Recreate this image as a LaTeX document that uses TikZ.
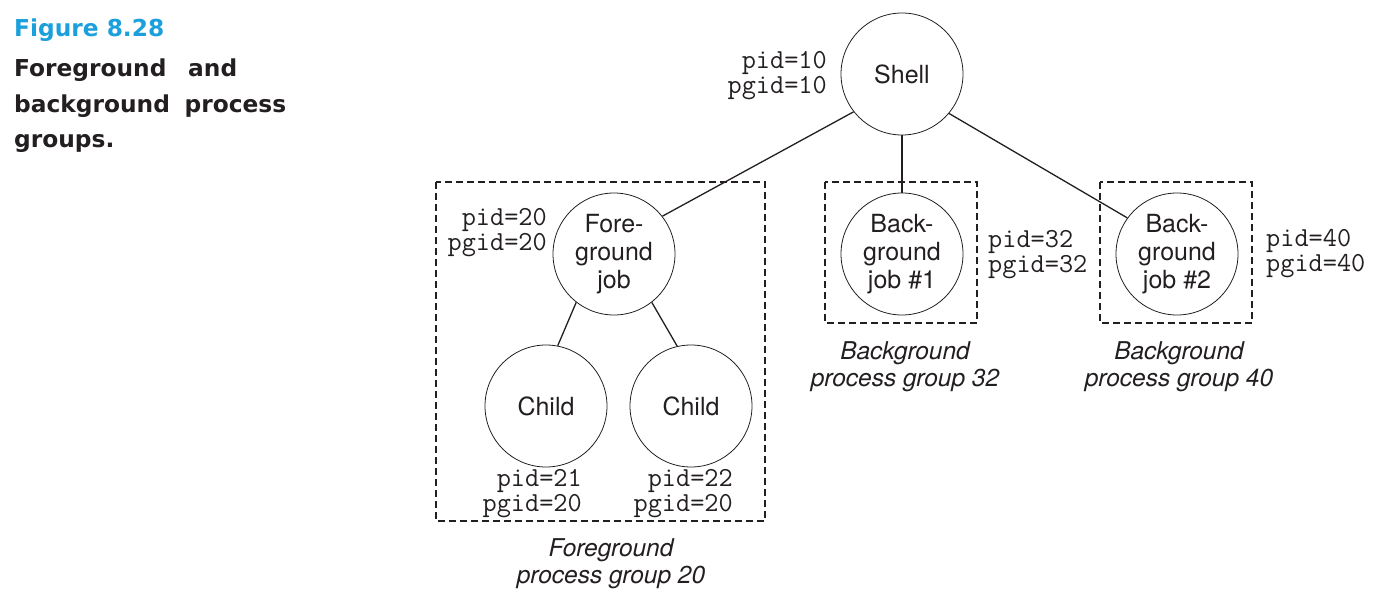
\documentclass[tikz,border=0pt]{standalone}
\usepackage{fontspec}
\newfontfamily\hv{TeX Gyre Heros}
\newfontfamily\ttl{DejaVu Sans}
\definecolor{figblue}{RGB}{27,160,220}
\definecolor{ink}{RGB}{35,31,32}
\begin{document}
\begin{tikzpicture}[x=1pt,y=-1pt,
  proc/.style={draw=ink, circle, line width=0.8pt, minimum size=122pt, inner sep=0pt, align=center,
    font=\hv\fontsize{25}{28}\selectfont, text=ink},
  ids/.style={inner sep=0pt, font=\ttfamily\fontsize{27.5}{25}\selectfont, text=ink},
  grpbox/.style={draw=ink, line width=1.6pt, dash pattern=on 7pt off 4pt},
  capt/.style={inner sep=0pt, align=center, font=\hv\itshape\fontsize{24.5}{27}\selectfont, text=ink},
  link/.style={draw=ink, line width=1.3pt},
  ttlfont/.style={inner sep=0pt, font=\ttl\bfseries\fontsize{23.3}{36}\selectfont}
]
\useasboundingbox (0,0) rectangle (1389,604);

% title
\node[ttlfont, anchor=base west, text=figblue] (fig) at (14,37) {Figure 8.28};
\node[ttlfont, anchor=base west, text=ink] (t1) at (14,77) {\makebox[223pt][s]{Foreground and}};
\node[ttlfont, anchor=base west, text=ink] (t2) at (14,113) {\makebox[272pt][s]{background process}};
\node[ttlfont, anchor=base west, text=ink] (t3) at (14,148) {groups.};

% group boxes
\draw[grpbox] (436,182) rectangle (765,521);
\draw[grpbox] (825,182) rectangle (977,323);
\draw[grpbox] (1100,182) rectangle (1252,323);

% processes
\node[proc] (shell) at (902,74) {Shell};
\node[proc] (fore) at (614,254) {Fore-\\ground\\job};
\node[proc] (c1) at (546,406) {Child};
\node[proc] (c2) at (691,406) {Child};
\node[proc] (bg1) at (902,254) {Back-\\ground\\job \#1};
\node[proc] (bg2) at (1177,254) {Back-\\ground\\job \#2};

% links
\draw[link] (shell.218) -- (fore.38);
\draw[link] (shell.south) -- (bg1.north);
\draw[link] (shell.320) -- (bg2.144);
\draw[link] (fore.232) -- (c1.79);
\draw[link] (fore.308) -- (c2.103);

% ids
\node[ids, anchor=east, align=right] (id10) at (827,76) {pid=10\\pgid=10};
\node[ids, anchor=east, align=right] (id20) at (547,233) {pid=20\\pgid=20};
\node[ids, anchor=east, align=right] (id21) at (582,494) {pid=21\\pgid=20};
\node[ids, anchor=east, align=right] (id22) at (733,494) {pid=22\\pgid=20};
\node[ids, anchor=west, align=left] (id32) at (988,255) {pid=32\\pgid=32};
\node[ids, anchor=west, align=left] (id40) at (1266,254) {pid=40\\pgid=40};

% captions
\node[capt] (g20) at (611,564) {Foreground\\process group 20};
\node[capt] (g32) at (905,367) {Background\\process group 32};
\node[capt] (g40) at (1179,367) {Background\\process group 40};
\end{tikzpicture}
\end{document}
